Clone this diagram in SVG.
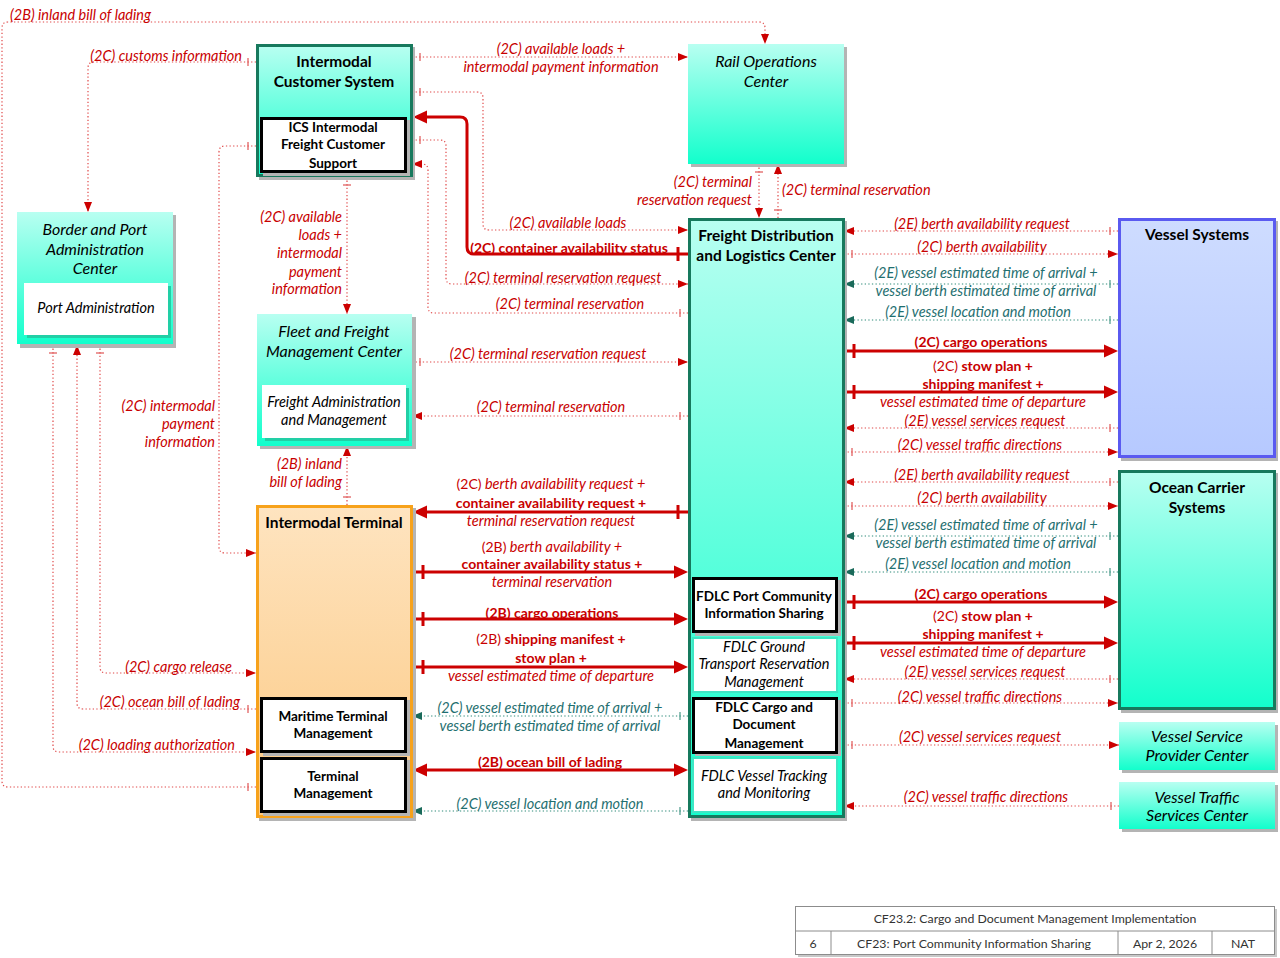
<svg xmlns="http://www.w3.org/2000/svg" width="1280" height="958" viewBox="0 0 1280 958">
<defs>
<linearGradient id="gC" x1="0" y1="0" x2="0" y2="1"><stop offset="0" stop-color="#b8fff1"/><stop offset="1" stop-color="#12ffcc"/></linearGradient>
<linearGradient id="gO" x1="0" y1="0" x2="0" y2="1"><stop offset="0" stop-color="#fee4c0"/><stop offset="1" stop-color="#fcc983"/></linearGradient>
<linearGradient id="gB" x1="0" y1="0" x2="0" y2="1"><stop offset="0" stop-color="#cedcff"/><stop offset="1" stop-color="#b6c9ff"/></linearGradient>
<marker id="aR" markerUnits="userSpaceOnUse" markerWidth="10" markerHeight="8" refX="10" refY="4" orient="auto" style="overflow:visible"><path d="M0,0 L10,4 L0,8z" fill="#cc0000"/></marker>
<marker id="aT" markerUnits="userSpaceOnUse" markerWidth="10" markerHeight="8" refX="10" refY="4" orient="auto" style="overflow:visible"><path d="M0,0 L10,4 L0,8z" fill="#1a6a5a"/></marker>
<marker id="aB" markerUnits="userSpaceOnUse" markerWidth="14" markerHeight="13" refX="10" refY="6.5" orient="auto" style="overflow:visible"><path d="M0,0 L14,6.5 L0,13z" fill="#cc0000"/></marker>
<marker id="aBs" markerUnits="userSpaceOnUse" markerWidth="14" markerHeight="13" refX="10" refY="6.5" orient="auto-start-reverse" style="overflow:visible"><path d="M0,0 L14,6.5 L0,13z" fill="#cc0000"/></marker>
<marker id="tR" markerUnits="userSpaceOnUse" markerWidth="10" markerHeight="10" refX="0" refY="0" orient="auto" style="overflow:visible"><path d="M8,-4 L8,4" stroke="#e05555" stroke-width="1.2"/></marker>
<marker id="tT" markerUnits="userSpaceOnUse" markerWidth="10" markerHeight="10" refX="0" refY="0" orient="auto" style="overflow:visible"><path d="M8,-4 L8,4" stroke="#4a9a8a" stroke-width="1.2"/></marker>
<marker id="tB" markerUnits="userSpaceOnUse" markerWidth="12" markerHeight="16" refX="0" refY="0" orient="auto" style="overflow:visible"><path d="M10,-7 L10,7" stroke="#cc0000" stroke-width="3"/></marker>
</defs>
<style>
text{font-family:Lato,"Open Sans","Liberation Sans",sans-serif}
.sh{fill:#b4b4b4}
.c{fill:url(#gC)}
.g{stroke:#17795d;stroke-width:3}
.ib{fill:#fff;stroke:#000;stroke-width:3}
.iw{fill:#fff}
.it{fill:#fff;stroke:#3fe6c4;stroke-width:2}
.ish{fill:#22cfa6}
.nb{font-size:15.5px;font-weight:bold;text-anchor:middle;fill:#000}
.ni{font-size:16px;font-style:italic;text-anchor:middle;fill:#000}
.sb{font-size:13.5px;font-weight:bold;text-anchor:middle;fill:#000}
.si{font-size:14.5px;font-style:italic;text-anchor:middle;fill:#000}
.l{font-size:14.5px;font-style:italic;fill:#c80000;text-anchor:middle}
.lt{font-size:14.5px;font-style:italic;fill:#1f6f70;text-anchor:middle}
.lb{font-size:14px;font-weight:bold;fill:#c80000;text-anchor:middle}
.e{text-anchor:end}
.s{text-anchor:start}
.n{font-style:normal;font-size:14px}
.b{font-style:normal;font-weight:bold;font-size:14px}
.d{fill:none;stroke:#e04848;stroke-width:1.2;stroke-dasharray:1.3 2.3;marker-start:url(#tR);marker-end:url(#aR)}
.dt{fill:none;stroke:#2e8b7a;stroke-width:1.2;stroke-dasharray:1.3 2.3;marker-start:url(#tT);marker-end:url(#aT)}
.k{fill:none;stroke:#cc0000;stroke-width:3;marker-start:url(#tB);marker-end:url(#aB)}
.tb{font-size:12.3px;fill:#333;text-anchor:middle}
</style>

<g id="connectors">
<path class="d" d="M256,787 H8 Q2,787 2,781 V28 Q2,22 8,22 H759 Q765,22 765,28 V44"/>
<path class="d" d="M256,62 H94 Q88,62 88,68 V212"/>
<path class="d" d="M412,57 H688"/>
<path class="d" d="M412,92 H477 Q483,92 483,98 V224 Q483,230 489,230 H688"/>
<path class="k" d="M688,254 H474 Q467,254 467,247 V124 Q467,117 460,117 H417"/>
<path class="d" d="M412,140 H440 Q446,140 446,146 V278 Q446,284 452,284 H688"/>
<path class="d" d="M688,313 H434 Q428,313 428,307 V170 Q428,164 422,164 H412"/>
<path class="d" d="M347,177 V314"/>
<path class="d" d="M256,146 H225 Q219,146 219,152 V547 Q219,553 225,553 H256"/>
<path class="d" d="M759,164 V218"/>
<path class="d" d="M778,218 V164"/>
<path class="d" d="M412,362 H688"/>
<path class="d" d="M688,416 H412"/>
<path class="d" d="M347,505 V446"/>
<path class="k" d="M688,512 H417"/>
<path class="k" d="M413,572 H684"/>
<path class="k" d="M413,619 H684"/>
<path class="k" d="M413,667 H684"/>
<path class="dt" d="M688,716 H412"/>
<path class="k" style="marker-start:url(#aBs)" d="M417,770 H684"/>
<path class="dt" d="M688,811 H412"/>
<path class="d" d="M100,345 V667 Q100,673 106,673 H256"/>
<path class="d" d="M256,709 H83 Q77,709 77,703 V345"/>
<path class="d" d="M53,345 V746 Q53,752 59,752 H256"/>
<path class="d" d="M1118,231 H844"/>
<path class="d" d="M844,254 H1118"/>
<path class="dt" d="M1118,284 H844"/>
<path class="dt" d="M1118,320 H844"/>
<path class="k" d="M844,351 H1114"/>
<path class="k" d="M844,392 H1114"/>
<path class="d" d="M1118,428 H844"/>
<path class="d" d="M844,452 H1118"/>
<path class="d" d="M1118,482 H844"/>
<path class="d" d="M844,506 H1118"/>
<path class="dt" d="M1118,536 H844"/>
<path class="dt" d="M1118,572 H844"/>
<path class="k" d="M844,602 H1114"/>
<path class="k" d="M844,643 H1114"/>
<path class="d" d="M1118,679 H844"/>
<path class="d" d="M844,703 H1118"/>
<path class="d" d="M844,745 H1119"/>
<path class="d" d="M1119,806 H844"/>
</g>

<g id="connector-labels">
<text class="l s" x="10" y="20">(2B) inland bill of lading</text>
<text class="l e" x="242" y="60.5">(2C) customs information</text>
<text class="l" x="561" y="54">(2C) available loads +</text>
<text class="l" x="561" y="71.5">intermodal payment information</text>
<text class="l" x="568" y="228">(2C) available loads</text>
<text class="lb" x="569" y="252.5">(2C) container availability status</text>
<text class="l" x="563" y="282.5">(2C) terminal reservation request</text>
<text class="l" x="570" y="309">(2C) terminal reservation</text>
<text class="l e" x="342" y="222">(2C) available</text>
<text class="l e" x="342" y="240">loads +</text>
<text class="l e" x="342" y="258">intermodal</text>
<text class="l e" x="342" y="276.5">payment</text>
<text class="l e" x="342" y="294">information</text>
<text class="l e" x="215" y="411">(2C) intermodal</text>
<text class="l e" x="215" y="429">payment</text>
<text class="l e" x="215" y="447">information</text>
<text class="l e" x="752" y="187">(2C) terminal</text>
<text class="l e" x="752" y="205">reservation request</text>
<text class="l s" x="782" y="195">(2C) terminal reservation</text>
<text class="l" x="548" y="359">(2C) terminal reservation request</text>
<text class="l" x="551" y="412">(2C) terminal reservation</text>
<text class="l e" x="342" y="469">(2B) inland</text>
<text class="l e" x="342" y="487">bill of lading</text>
<text class="l" x="551" y="489"><tspan class="n">(2C)</tspan> berth availability request +</text>
<text class="lb" x="551" y="508">container availability request +</text>
<text class="l" x="551" y="526">terminal reservation request</text>
<text class="l" x="552" y="552"><tspan class="n">(2B)</tspan> berth availability +</text>
<text class="lb" x="552" y="569">container availability status +</text>
<text class="l" x="552" y="587">terminal reservation</text>
<text class="lb" x="552" y="618">(2B) cargo operations</text>
<text class="l" x="551" y="644"><tspan class="n">(2B)</tspan> <tspan class="b">shipping manifest +</tspan></text>
<text class="lb" x="551" y="663">stow plan +</text>
<text class="l" x="551" y="681">vessel estimated time of departure</text>
<text class="lt" x="550" y="713">(2C) vessel estimated time of arrival +</text>
<text class="lt" x="550" y="731">vessel berth estimated time of arrival</text>
<text class="lb" x="550" y="767">(2B) ocean bill of lading</text>
<text class="lt" x="550" y="809">(2C) vessel location and motion</text>
<text class="l e" x="232" y="672">(2C) cargo release</text>
<text class="l e" x="240" y="707">(2C) ocean bill of lading</text>
<text class="l e" x="235" y="750">(2C) loading authorization</text>
<text class="l" x="982" y="229">(2E) berth availability request</text>
<text class="l" x="982" y="252">(2C) berth availability</text>
<text class="lt" x="986" y="278">(2E) vessel estimated time of arrival +</text>
<text class="lt" x="986" y="296">vessel berth estimated time of arrival</text>
<text class="lt" x="978" y="317">(2E) vessel location and motion</text>
<text class="lb" x="981" y="347">(2C) cargo operations</text>
<text class="l" x="983" y="371"><tspan class="n">(2C)</tspan> <tspan class="b">stow plan +</tspan></text>
<text class="lb" x="983" y="389">shipping manifest +</text>
<text class="l" x="983" y="407">vessel estimated time of departure</text>
<text class="l" x="985" y="426">(2E) vessel services request</text>
<text class="l" x="980" y="450">(2C) vessel traffic directions</text>
<text class="l" x="982" y="480">(2E) berth availability request</text>
<text class="l" x="982" y="503">(2C) berth availability</text>
<text class="lt" x="986" y="530">(2E) vessel estimated time of arrival +</text>
<text class="lt" x="986" y="548">vessel berth estimated time of arrival</text>
<text class="lt" x="978" y="569">(2E) vessel location and motion</text>
<text class="lb" x="981" y="599">(2C) cargo operations</text>
<text class="l" x="983" y="621"><tspan class="n">(2C)</tspan> <tspan class="b">stow plan +</tspan></text>
<text class="lb" x="983" y="639">shipping manifest +</text>
<text class="l" x="983" y="657">vessel estimated time of departure</text>
<text class="l" x="985" y="677">(2E) vessel services request</text>
<text class="l" x="980" y="702">(2C) vessel traffic directions</text>
<text class="l" x="980" y="742">(2C) vessel services request</text>
<text class="l" x="986" y="802">(2C) vessel traffic directions</text>
</g>

<g id="intermodal-customer-system">
<rect class="sh" x="259" y="47" width="156" height="133"/>
<rect class="c g" x="257.5" y="45.5" width="154" height="130"/>
<text class="nb" x="334" y="66.5">Intermodal</text>
<text class="nb" x="334" y="86.5">Customer System</text>
<rect class="sh" x="263" y="120" width="147" height="56"/>
<rect class="ib" x="261.5" y="118.5" width="144" height="53"/>
<text class="sb" x="333" y="132">ICS Intermodal</text>
<text class="sb" x="333" y="149">Freight Customer</text>
<text class="sb" x="333" y="168">Support</text>
</g>

<g id="rail-operations-center">
<rect class="sh" x="691" y="47" width="156" height="120"/>
<rect class="c" x="688" y="44" width="156" height="120"/>
<text class="ni" x="766" y="66.5">Rail Operations</text>
<text class="ni" x="766" y="86.5">Center</text>
</g>

<g id="border-and-port-administration-center">
<rect class="sh" x="20" y="215" width="156" height="133"/>
<rect class="c" x="17" y="212" width="156" height="132"/>
<text class="ni" x="95" y="234.5">Border and Port</text>
<text class="ni" x="95" y="254.5">Administration</text>
<text class="ni" x="95" y="273.5">Center</text>
<rect class="ish" x="27" y="286" width="144" height="52"/>
<rect class="iw" x="24" y="283" width="144" height="52"/>
<text class="si" x="96" y="313">Port Administration</text>
</g>

<g id="fleet-and-freight-management-center">
<rect class="sh" x="260" y="317" width="156" height="132"/>
<rect class="c" x="257" y="314" width="155" height="132"/>
<text class="ni" x="334" y="336.5">Fleet and Freight</text>
<text class="ni" x="334" y="356.5">Management Center</text>
<rect class="ish" x="265" y="388" width="144" height="53"/>
<rect class="iw" x="262" y="385" width="144" height="53"/>
<text class="si" x="334" y="407">Freight Administration</text>
<text class="si" x="334" y="425">and Management</text>
</g>

<g id="intermodal-terminal">
<rect class="sh" x="259" y="508" width="157" height="313"/>
<rect x="257.5" y="506.5" width="154" height="310" fill="url(#gO)" stroke="#f7a21b" stroke-width="3"/>
<text class="nb" x="334" y="527.5">Intermodal Terminal</text>
<rect class="sh" x="263" y="700" width="147" height="56"/>
<rect class="ib" x="261.5" y="698.5" width="144" height="53"/>
<text class="sb" x="333" y="721">Maritime Terminal</text>
<text class="sb" x="333" y="738">Management</text>
<rect class="sh" x="263" y="760" width="147" height="56"/>
<rect class="ib" x="261.5" y="758.5" width="144" height="53"/>
<text class="sb" x="333" y="781">Terminal</text>
<text class="sb" x="333" y="798">Management</text>
</g>

<g id="freight-distribution-and-logistics-center">
<rect class="sh" x="691" y="221" width="156" height="600"/>
<rect class="c g" x="689.5" y="219.5" width="154" height="597"/>
<text class="nb" x="766" y="240.5">Freight Distribution</text>
<text class="nb" x="766" y="260.5">and Logistics Center</text>
<rect class="sh" x="695" y="580" width="146" height="56"/>
<rect class="ib" x="693.5" y="578.5" width="143" height="53"/>
<text class="sb" x="764" y="601">FDLC Port Community</text>
<text class="sb" x="764" y="618">Information Sharing</text>
<rect class="it" x="693" y="638" width="144" height="54"/>
<text class="si" x="764" y="652">FDLC Ground</text>
<text class="si" x="764" y="669">Transport Reservation</text>
<text class="si" x="764" y="687">Management</text>
<rect class="sh" x="695" y="700" width="146" height="56"/>
<rect class="ib" x="693.5" y="698.5" width="143" height="54"/>
<text class="sb" x="764" y="712">FDLC Cargo and</text>
<text class="sb" x="764" y="729">Document</text>
<text class="sb" x="764" y="748">Management</text>
<rect class="it" x="693" y="758" width="144" height="54"/>
<text class="si" x="764" y="781">FDLC Vessel Tracking</text>
<text class="si" x="764" y="798">and Monitoring</text>
</g>

<g id="vessel-systems">
<rect class="sh" x="1121" y="221" width="157" height="240"/>
<rect x="1119.5" y="219.5" width="155" height="237" fill="url(#gB)" stroke="#5a5af0" stroke-width="3"/>
<text class="nb" x="1197" y="239.5">Vessel Systems</text>
</g>

<g id="ocean-carrier-systems">
<rect class="sh" x="1121" y="473" width="157" height="240"/>
<rect class="c g" x="1119.5" y="471.5" width="155" height="237"/>
<text class="nb" x="1197" y="492.5">Ocean Carrier</text>
<text class="nb" x="1197" y="512.5">Systems</text>
</g>

<g id="vessel-service-provider-center">
<rect class="sh" x="1122" y="725" width="156" height="48"/>
<rect class="c" x="1119" y="722" width="156" height="48"/>
<text class="ni" x="1197" y="741.5">Vessel Service</text>
<text class="ni" x="1197" y="760.5">Provider Center</text>
</g>

<g id="vessel-traffic-services-center">
<rect class="sh" x="1122" y="785" width="156" height="47"/>
<rect class="c" x="1119" y="782" width="156" height="47"/>
<text class="ni" x="1197" y="802.5">Vessel Traffic</text>
<text class="ni" x="1197" y="820.5">Services Center</text>
</g>

<g id="title-block">
<rect x="798" y="909" width="479" height="48" fill="#c8c8c8"/>
<rect x="795.5" y="906.5" width="479" height="48" fill="#fff" stroke="#8c8c8c" stroke-width="1"/>
<path d="M795.5,931 H1274.5 M831,931 V954.5 M1118,931 V954.5 M1212,931 V954.5" stroke="#8c8c8c" stroke-width="1" fill="none"/>
<text class="tb" x="1035" y="922.5">CF23.2: Cargo and Document Management Implementation</text>
<text class="tb" x="813" y="947.5">6</text>
<text class="tb" x="974" y="947.5">CF23: Port Community Information Sharing</text>
<text class="tb" x="1165" y="947.5">Apr 2, 2026</text>
<text class="tb" x="1243" y="947.5">NAT</text>
</g>
</svg>
